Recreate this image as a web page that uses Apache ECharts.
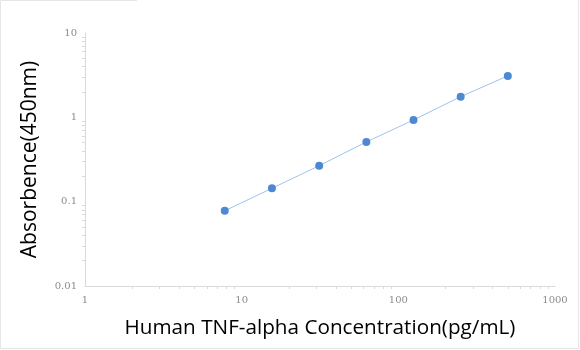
<!DOCTYPE html>
<html><head><meta charset="utf-8">
<script src="https://cdn.jsdelivr.net/npm/echarts@6/dist/echarts.min.js"></script>
<style>html,body{margin:0;padding:0;background:#fff}#c{width:580px;height:350px}</style>
</head><body><div id="c"></div>
<script>
const concentrations = [7.8, 15.6, 31.25, 62.5, 125, 250, 500];
const absorbance = [0.078, 0.144, 0.267, 0.511, 0.93, 1.76, 3.1];
const xTitle = 'Human TNF-alpha Concentration(pg/mL)';
const yTitle = 'Absorbence(450nm)';

const chart = echarts.init(document.getElementById('c'));
const tickLabel = {color:'#8c8c8c', fontSize:10, fontFamily:'DejaVu Serif', formatter:v=>String(v)};
chart.setOption({
  animation:false,
  grid:{left:85, right:25, top:33, bottom:64},
  graphic:[
    {type:'polyline', shape:{points:[[137,0.5],[0.5,0.5],[0.5,348.5],[578.5,348.5],[578.5,0]]}, style:{stroke:'#e6e6e6', fill:null, lineWidth:1}}
  ],
  xAxis:{
    type:'log', logBase:10, min:1, max:1000,
    name:xTitle, nameLocation:'middle', nameGap:32,
    nameTextStyle:{color:'#000', fontSize:20.7, fontFamily:'Open Sans'},
    axisLine:{lineStyle:{color:'#d9d9d9'}},
    axisTick:{show:false},
    minorTick:{show:true, splitNumber:9, length:3, lineStyle:{color:'#d9d9d9'}},
    axisLabel:Object.assign({margin:9}, tickLabel),
    splitLine:{show:false}
  },
  yAxis:{
    type:'log', logBase:10, min:0.01, max:10,
    name:yTitle, nameLocation:'middle', nameGap:44,
    nameTextStyle:{color:'#000', fontSize:21, fontFamily:'Open Sans'},
    axisLine:{show:true, lineStyle:{color:'#d9d9d9'}},
    axisTick:{show:false},
    minorTick:{show:true, splitNumber:9, length:3, lineStyle:{color:'#d9d9d9'}},
    axisLabel:Object.assign({margin:8}, tickLabel),
    splitLine:{show:false}
  },
  series:[{
    type:'line',
    data:concentrations.map((c,i)=>[c, absorbance[i]]),
    symbol:'circle', symbolSize:8,
    itemStyle:{color:'#4f88d2'},
    lineStyle:{color:'#9ec3ea', width:1}
  }]
});
</script></body></html>
